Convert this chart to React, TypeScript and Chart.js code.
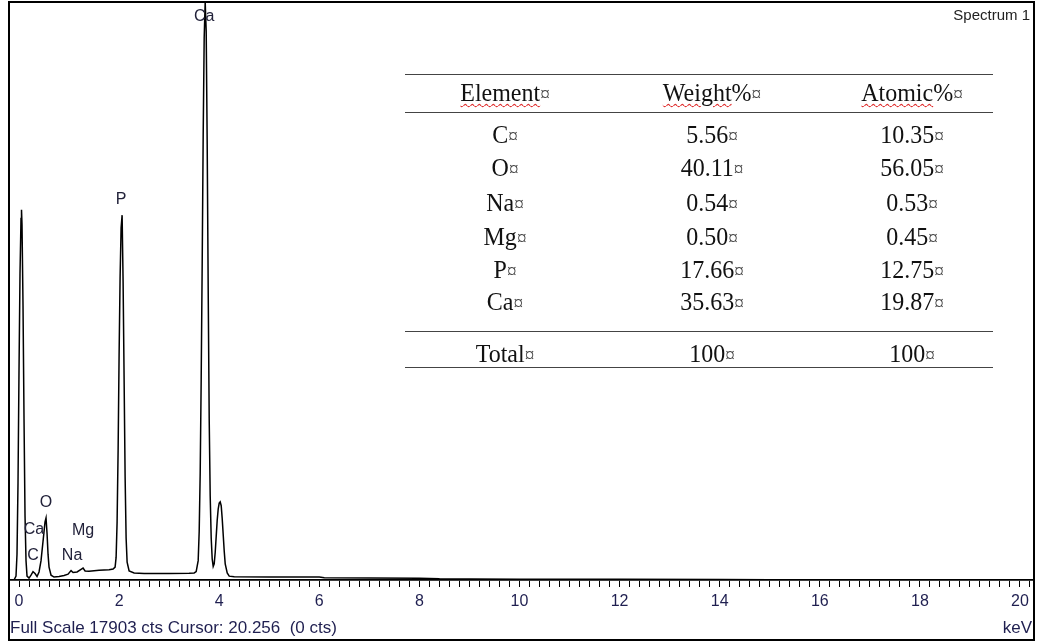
import React, { useEffect, useRef } from 'react';
import { Chart, registerables } from 'chart.js';

Chart.register(...registerables);

// ---- Spectrum data (keV, counts) ----
const energyKeV = [
  -0.1, -0.06, -0.04, -0.02, 0.0, 0.02, 0.04, 0.05, 0.06, 0.08, 0.1, 0.12, 0.14, 0.16,
  0.2, 0.24, 0.28, 0.32, 0.36, 0.4, 0.44, 0.48, 0.52, 0.54, 0.56, 0.58, 0.6, 0.64,
  0.7, 0.8, 0.9, 0.98, 1.04, 1.08, 1.16, 1.24, 1.28, 1.32, 1.4, 1.5, 1.6, 1.7, 1.8,
  1.88, 1.92, 1.94, 1.96, 1.98, 2.0, 2.02, 2.04, 2.06, 2.08, 2.1, 2.12, 2.14, 2.16,
  2.2, 2.3, 2.5, 3.0, 3.4, 3.5, 3.54, 3.58, 3.6, 3.62, 3.64, 3.66, 3.68, 3.7, 3.72,
  3.74, 3.76, 3.78, 3.8, 3.82, 3.84, 3.86, 3.88, 3.9, 3.92, 3.94, 3.96, 3.98, 4.0,
  4.02, 4.04, 4.06, 4.08, 4.1, 4.12, 4.16, 4.2, 4.3, 5.0, 6.0, 6.1, 7.0, 8.0, 8.4,
  9.0, 10.0, 12.0, 14.0, 15.0, 16.0, 17.0, 20.26,
];
const counts = [
  0, 120, 800, 3000, 6500, 9500, 11200, 11470, 11000, 8500, 5000, 2000, 600, 120,
  60, 150, 260, 200, 110, 250, 600, 1200, 1800, 1920, 1450, 800, 400, 150,
  90, 110, 140, 180, 290, 230, 250, 330, 370, 280, 270, 290, 300, 310, 320,
  340, 400, 700, 1800, 4000, 7000, 9400, 10900, 11300, 9200, 6200, 3200, 1300, 550,
  280, 220, 200, 200, 210, 220, 260, 600, 1500, 3300, 6200, 9800, 13800, 16800, 17903,
  17000, 13500, 9000, 5000, 2600, 1300, 650, 420, 500, 850, 1350, 1850, 2200, 2380,
  2420, 2300, 1900, 1400, 900, 500, 220, 120, 100, 95, 95, 70, 65, 55, 35,
  30, 25, 20, 15, 10, 5, 0, 0,
];

// ---- Peak annotations ----
const peakLabels = ['Ca', 'P', 'O', 'Ca', 'C', 'Mg', 'Na'];
const peakLabelKeV = [3.7, 2.04, 0.54, 0.3, 0.28, 1.28, 1.06];
const peakLabelCounts = [17450, 11780, 2390, 1550, 745, 1520, 745];

// ---- Axis ----
const xTickLabels = [0, 2, 4, 6, 8, 10, 12, 14, 16, 18, 20];
const MINOR_STEP = 0.2;
const X_MIN = -0.18;
const X_MAX = 20.26;
const FULL_SCALE = 17903;
const CURSOR_KEV = '20.256';
const CURSOR_CTS = 0;

// ---- Quantification table ----
const tableHeaders = ['Element', 'Weight', 'Atomic'];
const elements = ['C', 'O', 'Na', 'Mg', 'P', 'Ca'];
const weightPct = ['5.56', '40.11', '0.54', '0.50', '17.66', '35.63'];
const atomicPct = ['10.35', '56.05', '0.53', '0.45', '12.75', '19.87'];
const totalRow = ['Total', '100', '100'];

const SANS = '"Liberation Sans", Arial, sans-serif';
const SERIF = '"Liberation Serif", "Times New Roman", serif';

const framePlugin = {
  id: 'frameAndLabels',
  afterDraw(chart: any) {
    const { ctx, scales } = chart;
    const xs = scales.x;
    const ys = scales.y;
    ctx.save();
    // outer frame
    ctx.strokeStyle = '#000';
    ctx.lineWidth = 2;
    ctx.strokeRect(9, 2, 1025, 638);
    // peak labels
    ctx.fillStyle = '#22223a';
    ctx.font = `16px ${SANS}`;
    ctx.textAlign = 'center';
    ctx.textBaseline = 'middle';
    peakLabels.forEach((t, i) => {
      ctx.fillText(t, xs.getPixelForValue(peakLabelKeV[i]), ys.getPixelForValue(peakLabelCounts[i]));
    });
    // texts
    ctx.fillStyle = '#222';
    ctx.textAlign = 'right';
    ctx.font = `15px ${SANS}`;
    ctx.fillText('Spectrum 1', 1030, 16);
    ctx.fillStyle = '#1f1f50';
    ctx.textAlign = 'left';
    ctx.font = `17px ${SANS}`;
    ctx.fillText(`Full Scale ${FULL_SCALE} cts Cursor: ${CURSOR_KEV}  (${CURSOR_CTS} cts)`, 10, 628);
    ctx.textAlign = 'right';
    ctx.fillText('keV', 1032, 628);
    ctx.restore();
  },
};

const cellStyle = (cx: number, cy: number): React.CSSProperties => ({
  position: 'absolute',
  left: cx - 100,
  top: cy - 16,
  width: 200,
  height: 32,
  lineHeight: '32px',
  textAlign: 'center',
  fontFamily: SERIF,
  fontSize: 24,
  color: '#111',
  whiteSpace: 'nowrap',
  transform: 'scaleY(1.08)',
});

const Mark = () => <span style={{ fontSize: '0.8em', color: '#444' }}>¤</span>;
const wavy: React.CSSProperties = {
  textDecorationLine: 'underline',
  textDecorationStyle: 'wavy',
  textDecorationColor: '#e03030',
  textDecorationThickness: '1px',
  textUnderlineOffset: '2px',
};

export default function App() {
  const canvasRef = useRef<HTMLCanvasElement | null>(null);

  useEffect(() => {
    document.body.style.margin = '0';
    const canvas = canvasRef.current;
    if (!canvas) return;
    const minorTicks: number[] = [];
    for (let v = 0; v <= X_MAX + 1e-9; v += MINOR_STEP) minorTicks.push(Math.round(v * 10) / 10);

    const chart = new Chart(canvas, {
      type: 'line',
      data: {
        datasets: [
          {
            data: energyKeV.map((x, i) => ({ x, y: counts[i] })),
            borderColor: '#000',
            borderWidth: 1.5,
            pointRadius: 0,
            tension: 0,
            fill: false,
          },
        ],
      },
      options: {
        animation: false,
        responsive: false,
        maintainAspectRatio: false,
        layout: { padding: { left: 10, right: 5, top: 2, bottom: 2 } },
        plugins: { legend: { display: false }, tooltip: { enabled: false } },
        scales: {
          x: {
            type: 'linear',
            min: X_MIN,
            max: X_MAX,
            offset: false,
            afterBuildTicks: (s: any) => {
              s.ticks = minorTicks.map((v) => ({ value: v }));
            },
            afterFit: (s: any) => {
              s.height = 60;
            },
            ticks: {
              autoSkip: false,
              maxRotation: 0,
              minRotation: 0,
              padding: 5,
              color: '#1f1f50',
              font: { family: SANS, size: 16 },
              callback: (v: any) => {
                const n = Math.round(Number(v) * 10) / 10;
                return xTickLabels.includes(n) ? String(n) : '';
              },
            },
            grid: {
              drawOnChartArea: false,
              drawTicks: true,
              tickLength: 7,
              tickColor: '#000',
              tickWidth: 1,
            },
            border: { display: true, color: '#000', width: 1.8 },
          },
          y: { display: false, min: 0, max: FULL_SCALE },
        },
      },
      plugins: [framePlugin],
    });
    return () => chart.destroy();
  }, []);

  const colX = [505, 712, 912];
  const headerY = 92;
  const rowY = [134, 167, 202, 236, 269, 301];
  const totalY = 353;
  const lines = [74, 112, 331, 367];

  return (
    <div style={{ position: 'fixed', left: 0, top: 0, width: 1038, height: 642, background: '#fff' }}>
      <canvas ref={canvasRef} width={1038} height={642} style={{ position: 'absolute', left: 0, top: 0 }} />
      {lines.map((y, i) => (
        <div
          key={'l' + i}
          style={{ position: 'absolute', left: 405, top: y, width: 588, height: 0, borderTop: '1.5px solid #444' }}
        />
      ))}
      {tableHeaders.map((h, i) => (
        <div key={'h' + i} style={cellStyle(colX[i], headerY)}>
          <span style={wavy}>{h}</span>
          {i > 0 ? '%' : ''}
          <Mark />
        </div>
      ))}
      {elements.map((el, r) => (
        <React.Fragment key={'r' + r}>
          <div style={cellStyle(colX[0], rowY[r])}>
            {el}
            <Mark />
          </div>
          <div style={cellStyle(colX[1], rowY[r])}>
            {weightPct[r]}
            <Mark />
          </div>
          <div style={cellStyle(colX[2], rowY[r])}>
            {atomicPct[r]}
            <Mark />
          </div>
        </React.Fragment>
      ))}
      {totalRow.map((t, i) => (
        <div key={'t' + i} style={cellStyle(colX[i], totalY)}>
          {t}
          <Mark />
        </div>
      ))}
    </div>
  );
}
